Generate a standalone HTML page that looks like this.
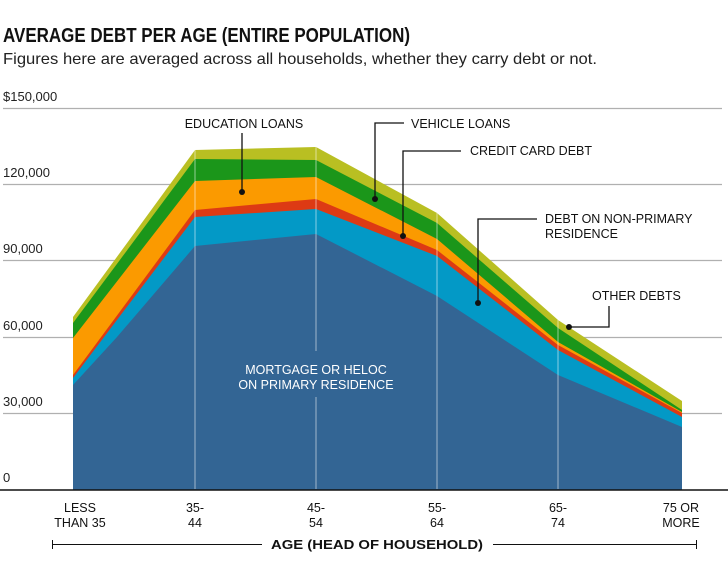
<!DOCTYPE html>
<html><head><meta charset="utf-8"><style>
body{margin:0;background:#fff;width:728px;height:570px;overflow:hidden}
svg{display:block}
text{font-family:"Liberation Sans",sans-serif}
</style></head><body>
<svg width="728" height="570" viewBox="0 0 728 570">
<text x="3" y="42" font-size="20" font-weight="bold" fill="#111" textLength="407" lengthAdjust="spacingAndGlyphs">AVERAGE DEBT PER AGE (ENTIRE POPULATION)</text>
<text x="3" y="64" font-size="16" fill="#222" textLength="594" lengthAdjust="spacingAndGlyphs">Figures here are averaged across all households, whether they carry debt or not.</text>
<g stroke="#b0b0b0" stroke-width="1.2">
<line x1="3" y1="108.5" x2="722" y2="108.5"/><line x1="3" y1="184.5" x2="722" y2="184.5"/>
<line x1="3" y1="260.5" x2="722" y2="260.5"/><line x1="3" y1="337.5" x2="722" y2="337.5"/>
<line x1="3" y1="413.5" x2="722" y2="413.5"/>
</g>
<g font-size="13" fill="#222">
<text x="3" y="101">$150,000</text><text x="3" y="177">120,000</text><text x="3" y="253">90,000</text>
<text x="3" y="330">60,000</text><text x="3" y="406">30,000</text><text x="3" y="482">0</text>
</g>
<polygon fill="#b9bf22" points="73,490 73,317 195,150 316,147 437,213 558,320 682,401 682,490"/>
<polygon fill="#1b961a" points="73,490 73,323 195,159 316,160 437,223 558,328 682,410 682,490"/>
<polygon fill="#fb9a00" points="73,490 73,338 195,181 316,177 437,239 558,342 682,412 682,490"/>
<polygon fill="#dd3a14" points="73,490 73,375 195,210 316,199 437,250 558,345 682,413 682,490"/>
<polygon fill="#0399c6" points="73,490 73,378 195,217 316,209 437,256 558,350 682,417 682,490"/>
<polygon fill="#336594" points="73,490 73,385 117,337 195,246 316,234 437,296 558,375 682,427 682,490"/>
<g stroke="#ffffff" stroke-opacity="0.45" stroke-width="1.2">
<line x1="195" y1="150" x2="195" y2="489"/>
<line x1="316" y1="147" x2="316" y2="351"/><line x1="316" y1="397" x2="316" y2="489"/>
<line x1="437" y1="213" x2="437" y2="489"/><line x1="558" y1="320" x2="558" y2="489"/>
</g>
<line x1="0" y1="490" x2="728" y2="490" stroke="#111" stroke-width="1.5"/>
<g font-size="12.5" fill="#fff" text-anchor="middle">
<text x="316" y="374">MORTGAGE OR HELOC</text><text x="316" y="389">ON PRIMARY RESIDENCE</text>
</g>
<g font-size="12.5" fill="#111">
<text x="244" y="128" text-anchor="middle">EDUCATION LOANS</text>
<text x="411" y="128">VEHICLE LOANS</text>
<text x="470" y="155">CREDIT CARD DEBT</text>
<text x="545" y="223">DEBT ON NON-PRIMARY</text>
<text x="545" y="238">RESIDENCE</text>
<text x="592" y="300">OTHER DEBTS</text>
</g>
<g stroke="#111" stroke-width="1.3" fill="none">
<polyline points="242,133 242,192"/>
<polyline points="404,123 375,123 375,199"/>
<polyline points="461,151 403,151 403,236"/>
<polyline points="537,219 478,219 478,303"/>
<polyline points="609,306 609,327 569,327"/>
</g>
<g fill="#111">
<circle cx="242" cy="192" r="3"/><circle cx="375" cy="199" r="3"/><circle cx="403" cy="236" r="3"/>
<circle cx="478" cy="303" r="3"/><circle cx="569" cy="327" r="3"/>
</g>
<g font-size="12.5" fill="#111" text-anchor="middle">
<text x="80" y="512">LESS</text><text x="80" y="527">THAN 35</text>
<text x="195" y="512">35-</text><text x="195" y="527">44</text>
<text x="316" y="512">45-</text><text x="316" y="527">54</text>
<text x="437" y="512">55-</text><text x="437" y="527">64</text>
<text x="558" y="512">65-</text><text x="558" y="527">74</text>
<text x="681" y="512">75 OR</text><text x="681" y="527">MORE</text>
</g>
<g stroke="#111" stroke-width="1">
<line x1="52" y1="544.5" x2="262" y2="544.5"/><line x1="493" y1="544.5" x2="697" y2="544.5"/>
<line x1="52.5" y1="540" x2="52.5" y2="549"/><line x1="696.5" y1="540" x2="696.5" y2="549"/>
</g>
<text x="377" y="549" font-size="13" font-weight="bold" fill="#111" text-anchor="middle" textLength="212" lengthAdjust="spacingAndGlyphs">AGE (HEAD OF HOUSEHOLD)</text>
</svg>
</body></html>
